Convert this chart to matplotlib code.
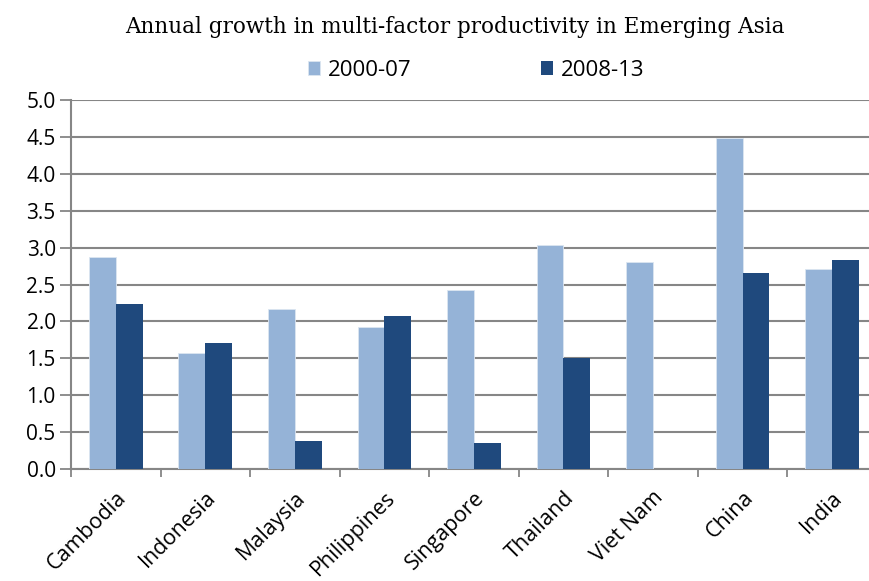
import numpy as np
import matplotlib
matplotlib.use("Agg")
import matplotlib.pyplot as plt

countries = ["Cambodia", "Indonesia", "Malaysia", "Philippines", "Singapore",
             "Thailand", "Viet Nam", "China", "India"]
growth_2000_07 = [2.87, 1.57, 2.17, 1.93, 2.42, 3.03, 2.81, 4.48, 2.71]
growth_2008_13 = [2.23, 1.71, 0.38, 2.08, 0.35, 1.50, np.nan, 2.66, 2.83]
y_ticks = [0.0, 0.5, 1.0, 1.5, 2.0, 2.5, 3.0, 3.5, 4.0, 4.5, 5.0]

LIGHT = "#95B3D7"
DARK = "#1F497D"
GRID = "#868686"

plt.rcParams["font.family"] = ["Open Sans", "DejaVu Sans"]

fig = plt.figure(figsize=(8.69, 5.81), dpi=100)
ax = fig.add_axes([0.0817, 0.1928, 0.9273, 0.635])

x = np.arange(len(countries))
w = 0.3
ax.bar(x - w / 2, growth_2000_07, width=w, color=LIGHT, edgecolor="#dce6f1",
       linewidth=0.6, label="2000-07", zorder=3)
ax.bar(x + w / 2, growth_2008_13, width=w, color=DARK, label="2008-13", zorder=3)

ax.set_xlim(-0.5, len(countries) - 0.5)
ax.set_ylim(0, 5.0)
ax.set_yticks(y_ticks)
ax.set_yticklabels([f"{v:.1f}" for v in y_ticks], fontsize=15)
ax.yaxis.grid(True, color=GRID, linewidth=1.5, zorder=0)

# category boundaries carry the x tick marks, labels sit at the centres
ax.set_xticks(np.arange(len(countries) + 1) - 0.5)
ax.set_xticklabels([])
ax.set_xticks(x, minor=True)
ax.set_xticklabels(countries, minor=True, rotation=45, ha="right",
                   rotation_mode="anchor", fontsize=15.5)
ax.tick_params(axis="x", which="minor", length=0, pad=13)
ax.tick_params(axis="x", which="major", length=6, width=1.3, color=GRID)
ax.tick_params(axis="y", length=8, width=1.3, color=GRID, pad=3)

for side in ("top", "right"):
    ax.spines[side].set_visible(False)
for side in ("left", "bottom"):
    ax.spines[side].set_color(GRID)
    ax.spines[side].set_linewidth(1.5)

fig.text(0.523, 0.953, "Annual growth in multi-factor productivity in Emerging Asia",
         ha="center", va="center", fontsize=15.5, family="DejaVu Serif")

fig.legend(loc="center", bbox_to_anchor=(0.548, 0.879), ncol=2, frameon=False,
           fontsize=16, handlelength=0.55, handleheight=0.55, handletextpad=0.35,
           columnspacing=5.8)

fig.savefig("out.png", dpi=100)
